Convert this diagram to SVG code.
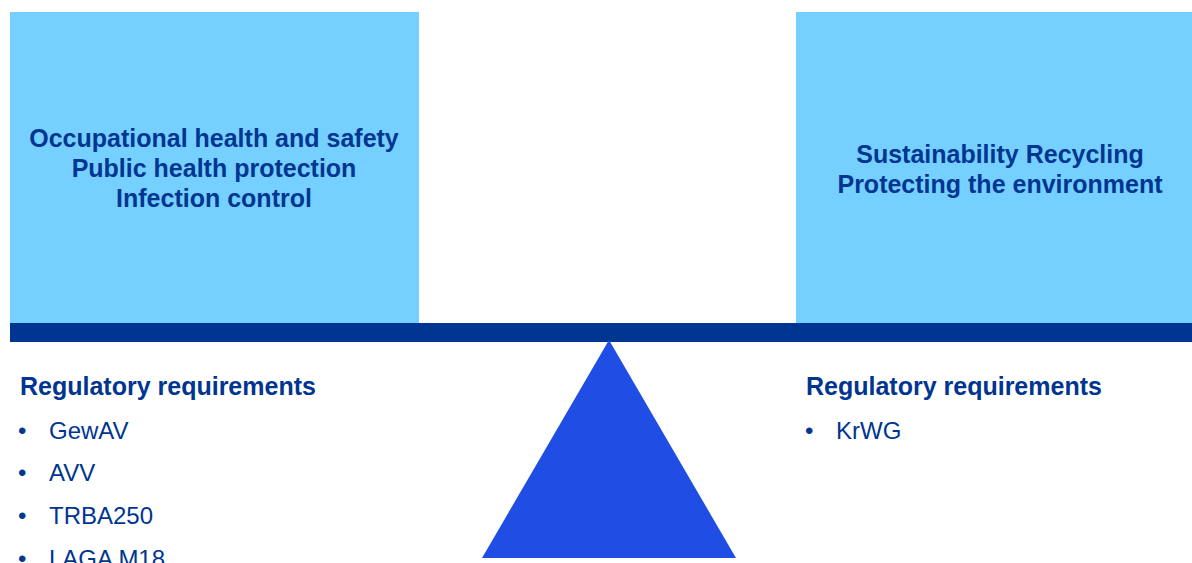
<svg xmlns="http://www.w3.org/2000/svg" width="1192" height="563" viewBox="0 0 1192 563">
  <style>
    .box { fill: #75D0FF; }
    .title { font-family: "Liberation Sans", Arial, sans-serif; font-weight: bold; font-size: 25px; fill: #003591; text-anchor: middle; }
    .head { font-family: "Liberation Sans", Arial, sans-serif; font-weight: bold; font-size: 25px; fill: #003591; }
    .item { font-family: "Liberation Sans", Arial, sans-serif; font-size: 24px; fill: #003591; }
  </style>
  <rect width="1192" height="563" fill="#ffffff"/>

  <!-- left pan -->
  <g id="left-box">
    <rect class="box" x="10" y="12" width="409" height="312"/>
    <text class="title" x="214" y="147">Occupational health and safety</text>
    <text class="title" x="214" y="177">Public health protection</text>
    <text class="title" x="214" y="207">Infection control</text>
  </g>

  <!-- right pan -->
  <g id="right-box">
    <rect class="box" x="796" y="12" width="396" height="312"/>
    <text class="title" x="1000" y="163">Sustainability Recycling</text>
    <text class="title" x="1000" y="193">Protecting the environment</text>
  </g>

  <!-- beam and fulcrum -->
  <g id="beam">
    <rect x="10" y="323" width="1182" height="19" fill="#003591"/>
  </g>
  <g id="fulcrum">
    <polygon points="609,340 736,558 482,558" fill="#204DE3"/>
  </g>

  <!-- requirement lists -->
  <g id="left-list">
    <text class="head" x="20" y="395">Regulatory requirements</text>
    <text class="item" x="18" y="439">•</text><text class="item" x="49" y="439">GewAV</text>
    <text class="item" x="18" y="481">•</text><text class="item" x="49" y="481">AVV</text>
    <text class="item" x="18" y="524">•</text><text class="item" x="49" y="524">TRBA250</text>
    <text class="item" x="18" y="567">•</text><text class="item" x="49" y="567">LAGA M18</text>
  </g>
  <g id="right-list">
    <text class="head" x="806" y="395">Regulatory requirements</text>
    <text class="item" x="805" y="439">•</text><text class="item" x="836" y="439">KrWG</text>
  </g>
</svg>
